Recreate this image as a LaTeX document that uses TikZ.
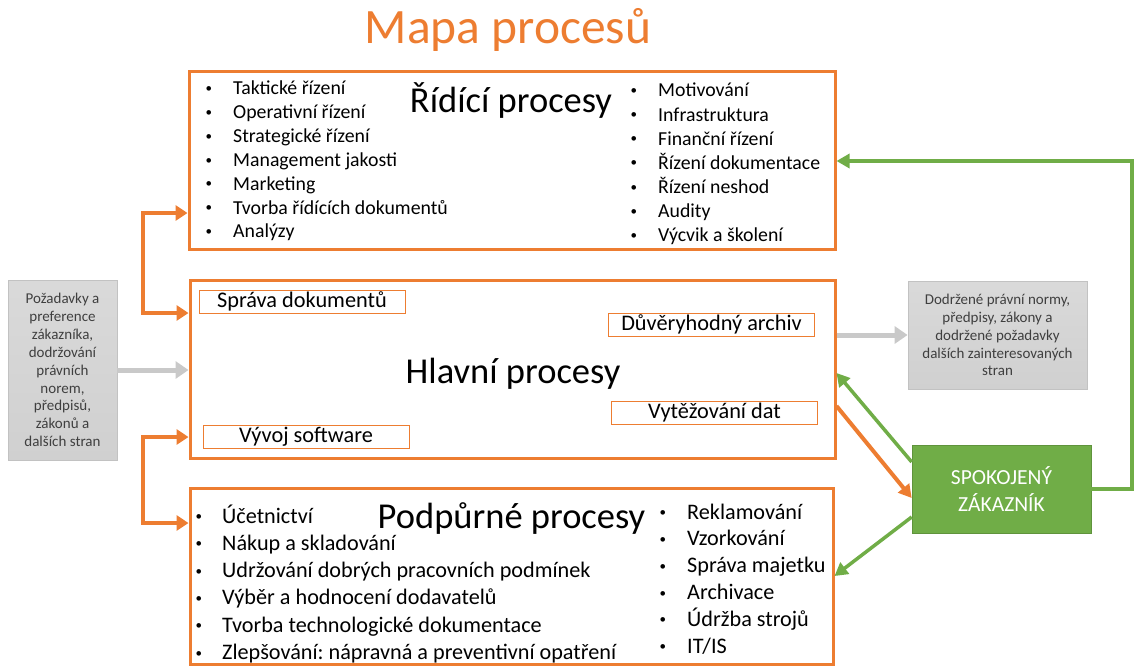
\documentclass[tikz,border=0pt]{standalone}
\usepackage{fontspec}
\setmainfont{Carlito}
\usetikzlibrary{arrows.meta}
\frenchspacing
\definecolor{orng}{HTML}{ED7D31}
\definecolor{grn}{HTML}{70AD47}
\definecolor{gbox}{HTML}{D0D0D0}
\definecolor{gbord}{HTML}{C2C2C2}
\definecolor{garr}{HTML}{C9C9C9}
\definecolor{gtxt}{HTML}{3F3F3F}
\newcommand{\smallbul}[1]{\llap{\raisebox{2.4pt}{\fontsize{13}{13}\selectfont\textbullet}\hspace{#1}}}
\begin{document}
\begin{tikzpicture}[x=1pt,y=-1pt,
  procbox/.style={draw=orng, line width=3pt, inner sep=0pt},
  subbox/.style={draw=orng, line width=1pt, inner sep=0pt, minimum width=206pt, minimum height=23pt, font=\fontsize{22.3}{26}\selectfont},
  graybox/.style={draw=gbord, line width=0.8pt, top color=gbox!80!white, bottom color=gbox, text=gtxt, align=center, inner sep=0pt, font=\fontsize{15}{17.9}\selectfont},
  bigtitle/.style={anchor=base, inner sep=0pt, font=\fontsize{36.5}{43}\selectfont},
  itemA/.style={anchor=base west, inner sep=0pt, font=\fontsize{19.8}{24}\selectfont},
  itemB/.style={anchor=base west, inner sep=0pt, font=\fontsize{22.2}{27}\selectfont},
  oarr/.style={draw=orng, line width=4.5pt, line join=miter},
  obracket/.style={oarr, {Triangle[length=12pt,width=15pt]}-{Triangle[length=12pt,width=15pt]}},
  garrow/.style={draw=grn, line width=3.5pt, -{Triangle[length=13pt,width=14pt]}},
  grarrow/.style={draw=garr, line width=5pt, -{Triangle[length=13pt,width=17pt]}}
]
\useasboundingbox (0,0) rectangle (1134,666);

% title
\node[anchor=base, inner sep=0pt, text=orng, font=\fontsize{49.5}{58}\selectfont] (title) at (508,44) {Mapa procesů};

% main boxes
\node[procbox, minimum width=646pt, minimum height=177pt] (ridici) at (512,160.5) {};
\node[procbox, minimum width=645pt, minimum height=178pt] (hlavni) at (512.5,369) {};
\node[procbox, minimum width=643pt, minimum height=176pt] (podpurne) at (511.5,576) {};

% side boxes
\node[graybox, minimum width=109pt, minimum height=180pt] (vstup) at (62.5,370)
  {Požadavky a\\preference\\zákazníka,\\dodržování\\právních\\norem,\\předpisů,\\zákonů a\\dalších stran};
\node[graybox, minimum width=179pt, minimum height=108pt] (vystup) at (997.5,335)
  {Dodržené právní normy,\\předpisy, zákony a\\dodržené požadavky\\dalších zainteresovaných\\stran};
\node[fill=grn, draw=grn!85!black, line width=0.6pt, text=white, align=center, inner sep=0pt,
  minimum width=179pt, minimum height=88pt, font=\fontsize{21.5}{26.5}\selectfont] (zak) at (1001.5,489)
  {SPOKOJENÝ\\ZÁKAZNÍK};

% titles
\node[bigtitle] (tr) at (511,113) {Řídící procesy};
\node[bigtitle] (th) at (513,383) {Hlavní procesy};
\node[bigtitle] (tp) at (511.5,528) {Podpůrné procesy};

% Řídící lists
\foreach \t [count=\i from 0] in {Taktické řízení, Operativní řízení, Strategické řízení, Management jakosti, Marketing, Tvorba řídících dokumentů, Analýzy}
  \node[itemA] (rl\i) at (233, 95+23.8*\i) {\smallbul{21pt}\t};
\foreach \t [count=\i from 0] in {Motivování, Infrastruktura, Finanční řízení, Řízení dokumentace, Řízení neshod, Audity, Výcvik a školení}
  \node[itemA] (rr\i) at (658, 97+24.1*\i) {\smallbul{21pt}\t};

% Podpůrné lists
\foreach \t [count=\i from 0] in {Účetnictví, Nákup a skladování, Udržování dobrých pracovních podmínek, Výběr a hodnocení dodavatelů, Tvorba technologické dokumentace, Zlepšování: nápravná a preventivní opatření}
  \node[itemB] (pl\i) at (222, 523+27.3*\i) {\smallbul{20pt}\t};
\foreach \t [count=\i from 0] in {Reklamování, Vzorkování, Správa majetku, Archivace, Údržba strojů, IT/IS}
  \node[itemB] (pr\i) at (687, 519+26.8*\i) {\smallbul{21pt}\t};

% sub boxes in Hlavní
\node[subbox] (sprava) at (302,301.5) {Správa dokumentů};
\node[subbox] (archiv) at (711.5,324.5) {Důvěryhodný archiv};
\node[subbox] (vytez) at (714.5,412.5) {Vytěžování dat};
\node[subbox] (vyvoj) at (306,436.5) {Vývoj software};

% orange brackets
\coordinate (b1) at (143,213);
\coordinate (b2) at (143,313);
\coordinate (b3) at (143,437);
\coordinate (b4) at (143,523);
\draw[obracket] (ridici.west |- b1) -- (b1) -- (b2) -- (hlavni.west |- b2);
\draw[obracket] (hlavni.west |- b3) -- (b3) -- (b4) -- (podpurne.west |- b4);

% gray arrows
\draw[grarrow] (vstup.east) -- (hlavni.west |- vstup.east);
\draw[grarrow] (hlavni.east |- vystup.west) -- (vystup.west);

% customer arrows
\coordinate (z1) at (912,462);
\coordinate (h1) at (836,373);
\coordinate (h2) at (836,406);
\coordinate (z2) at (912,498);
\coordinate (z3) at (912,517);
\coordinate (p1) at (834,576);
\draw[garrow] (zak.west |- z1) -- (hlavni.east |- h1);
\draw[oarr, line width=4pt, -{Triangle[length=13pt,width=14pt]}] (hlavni.east |- h2) -- (zak.west |- z2);
\draw[garrow] (zak.west |- z3) -- (podpurne.east |- p1);

% feedback loop
\coordinate (g2) at (1132,161);
\draw[garrow, line join=miter] (zak.east) -- (zak.east -| g2) -- (g2) -- (ridici.east |- g2);
\end{tikzpicture}
\end{document}
